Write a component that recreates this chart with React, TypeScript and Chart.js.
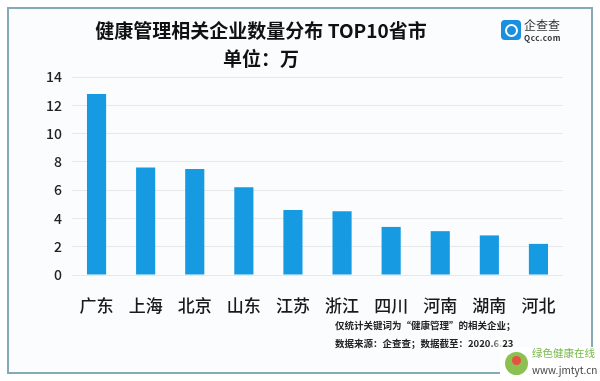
import React, { useEffect, useRef } from "react";
import { Chart, registerables } from "chart.js";

Chart.register(...registerables);

const categories = ["广东", "上海", "北京", "山东", "江苏", "浙江", "四川", "河南", "湖南", "河北"];
const values = [12.8, 7.6, 7.5, 6.2, 4.6, 4.5, 3.4, 3.1, 2.8, 2.2];
const yMin = 0;
const yMax = 14;
const yStep = 2;

const titleText = "健康管理相关企业数量分布 TOP10省市";
const unitText = "单位：万";
const noteLine1 = "仅统计关键词为“健康管理”的相关企业；";
const noteLine2 = "数据来源：企查查；数据截至：2020.6.23";

const FONT = '"Noto Sans CJK SC", "Noto Sans", sans-serif';

export default function App() {
  const ref = useRef<HTMLCanvasElement | null>(null);

  useEffect(() => {
    if (!ref.current) return;
    const chart = new Chart(ref.current, {
      type: "bar",
      data: {
        labels: categories,
        datasets: [
          {
            data: values,
            backgroundColor: "#169be2",
            borderWidth: 0,
            categoryPercentage: 1,
            barPercentage: 0.39,
          },
        ],
      },
      options: {
        animation: false,
        responsive: false,
        devicePixelRatio: 1,
        layout: { padding: { left: 0, right: 37, top: 77, bottom: 56 } },
        plugins: {
          legend: { display: false },
          tooltip: { enabled: false },
          title: { display: false },
        },
        scales: {
          x: {
            grid: { display: false },
            border: { display: false },
            ticks: {
              color: "#1a1a1a",
              padding: 12,
              maxRotation: 0,
              autoSkip: false,
              font: { family: FONT, size: 17, weight: "500" },
            },
            afterFit: (s: any) => {
              s.height = 50;
            },
          },
          y: {
            min: yMin,
            max: yMax,
            border: { display: false },
            grid: { color: "#e6e8ea", lineWidth: 1, drawTicks: false },
            ticks: {
              stepSize: yStep,
              color: "#222",
              padding: 10,
              font: { family: FONT, size: 14, weight: "500" },
            },
            afterFit: (s: any) => {
              s.width = 72;
            },
          },
        },
      },
    });
    return () => chart.destroy();
  }, []);

  return (
    <div
      style={{
        position: "absolute",
        left: 0,
        top: 0,
        width: 600,
        height: 381,
        background: "#ffffff",
        overflow: "hidden",
        fontFamily: FONT,
      }}
    >
      <div
        style={{
          position: "absolute",
          left: 7,
          top: 7,
          width: 582,
          height: 363,
          border: "2px solid #86a9b6",
          background: "#fbfcfd",
        }}
      />
      <canvas
        ref={ref}
        width={600}
        height={381}
        style={{ position: "absolute", left: 0, top: 0, width: 600, height: 381 }}
      />
      <div
        style={{
          position: "absolute",
          left: 0,
          width: 522,
          top: 16,
          textAlign: "center",
          fontSize: 19,
          fontWeight: "bold",
          color: "#111",
          lineHeight: "28px",
          whiteSpace: "nowrap",
        }}
      >
        {titleText}
        <br />
        {unitText}
      </div>
      <div
        style={{
          position: "absolute",
          left: 501,
          top: 20,
          width: 20,
          height: 20,
          borderRadius: 4,
          background: "#1a8fe0",
        }}
      >
        <div
          style={{
            position: "absolute",
            left: 4,
            top: 4,
            width: 9,
            height: 9,
            borderRadius: "50%",
            border: "2px solid #fff",
          }}
        />
      </div>
      <div
        style={{
          position: "absolute",
          left: 524,
          top: 18,
          fontSize: 12,
          lineHeight: "14px",
          color: "#333",
          whiteSpace: "nowrap",
        }}
      >
        企查查
      </div>
      <div
        style={{
          position: "absolute",
          left: 524,
          top: 33,
          fontSize: 8,
          lineHeight: "9px",
          fontWeight: "bold",
          color: "#333",
          letterSpacing: 0.5,
          whiteSpace: "nowrap",
        }}
      >
        Qcc.com
      </div>
      <div
        style={{
          position: "absolute",
          left: 335,
          top: 316,
          fontSize: 9.5,
          lineHeight: "18px",
          fontWeight: "bold",
          color: "#222",
          whiteSpace: "nowrap",
        }}
      >
        {noteLine1}
        <br />
        {noteLine2}
      </div>
      <div
        style={{
          position: "absolute",
          left: 490,
          top: 336,
          width: 12,
          height: 14,
          background: "linear-gradient(to right, rgba(255,255,255,0), rgba(255,255,255,0.8))",
        }}
      />
      <div
        style={{
          position: "absolute",
          left: 500,
          top: 347,
          width: 100,
          height: 34,
          background: "#ffffff",
        }}
      />
      <div
        style={{
          position: "absolute",
          left: 505,
          top: 352,
          width: 23,
          height: 23,
          borderRadius: "50%",
          background: "#8cc152",
        }}
      >
        <div
          style={{
            position: "absolute",
            left: 7,
            top: 4,
            width: 9,
            height: 9,
            borderRadius: "50%",
            background: "#e8503f",
          }}
        />
      </div>
      <div
        style={{
          position: "absolute",
          left: 532,
          top: 346,
          fontSize: 10.5,
          lineHeight: "14px",
          color: "#78b84a",
          whiteSpace: "nowrap",
        }}
      >
        绿色健康在线
      </div>
      <div
        style={{
          position: "absolute",
          left: 532,
          top: 363,
          fontSize: 10,
          lineHeight: "13px",
          color: "#444",
          whiteSpace: "nowrap",
        }}
      >
        www.jmtyt.cn
      </div>
    </div>
  );
}
